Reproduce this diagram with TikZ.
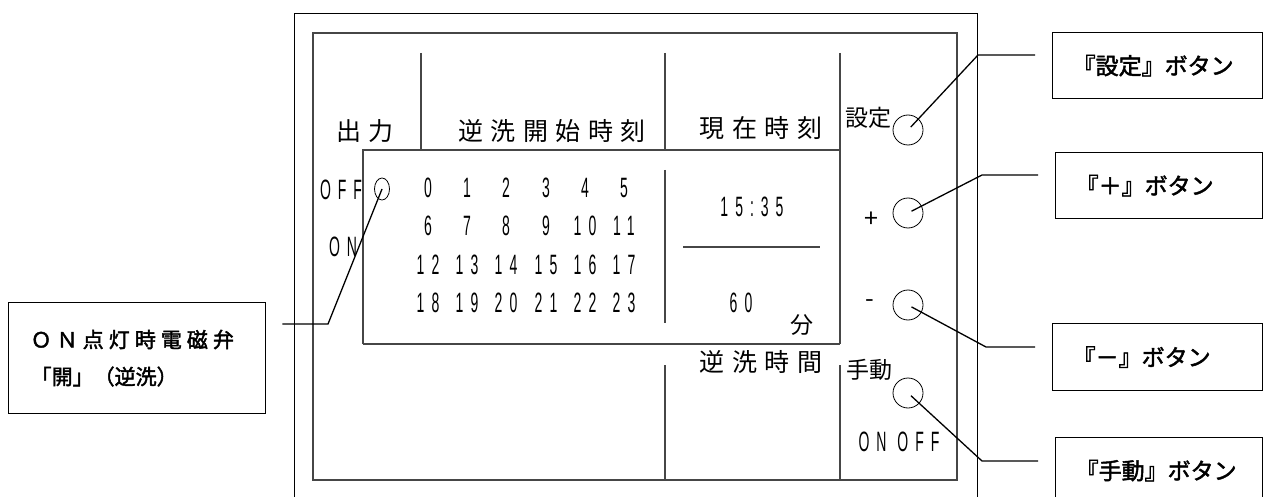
\documentclass[tikz,border=0pt]{standalone}
\usepackage{fontspec}
\usepackage{tikz}
\newfontfamily\jpfont{Noto Sans CJK JP}[AutoFakeBold=2]
\newfontfamily\panelfont{Noto Sans CJK JP}[LetterSpace=30]
\newfontfamily\keyfont{Noto Sans CJK JP}
\newfontfamily\segfont{Liberation Sans}[FakeStretch=0.5, LetterSpace=25]
\definecolor{framegray}{RGB}{70,70,70}
\usetikzlibrary{shapes.geometric, calc}

\begin{document}
\begin{tikzpicture}[
        x=1pt, y=-1pt,
        frame/.style={draw=framegray, line width=1.2pt},
        panel/.style={font=\panelfont\fontsize{25}{25}\selectfont, inner sep=0pt},
        keytext/.style={font=\keyfont\fontsize{23}{23}\selectfont, inner sep=0pt},
        digit/.style={font=\segfont\fontsize{28}{28}\selectfont, inner sep=0pt},
        button/.style={circle, draw, line width=0.8pt, minimum size=30pt, inner sep=0pt},
        label/.style={rectangle, draw, line width=1.3pt, anchor=north west,
                    font=\jpfont\bfseries\fontsize{23}{23}\selectfont,
                    align=left, inner xsep=20pt},
        leader/.style={line width=1.3pt, shorten <=4pt}
    ]
        \useasboundingbox (0,0) rectangle (1263,497);

        % case and panel
        \draw[line width=0.9pt] (294,497) -- (294,13) -- (977,13) -- (977,497);
        \draw[frame] (313,33) rectangle (957,480);
        \draw[frame] (421,53) -- (421,150);
        \draw[frame] (665,53) -- (665,150);
        \draw[frame] (840,53) -- (840,344);
        \draw[frame] (840,365) -- (840,480);
        % display window
        \draw[frame] (363,344) -- (363,150) -- (840,150);
        \draw[frame] (363,344) -- (840,344);
        \draw[frame] (665,170) -- (665,323);
        \draw[frame] (665,365) -- (665,480);
        \draw[frame] (683,247) -- (820,247);

        % headings
        \node[panel] (outhead) at (365,131) {出力};
        \node[panel] (starthead) at (552,131) {逆洗開始時刻};
        \node[panel] (nowhead) at (761,128) {現在時刻};
        \node[panel] (durhead) at (761,362) {逆洗時間};

        % output state
        \node[digit] (offtext) at (341,190) {OFF};
        \node[digit] (ontext) at (343,247) {ON};
        \node[ellipse, draw, line width=0.8pt, minimum width=15pt, minimum height=22pt, inner sep=0pt] (offmark) at (382,189) {};

        % start hours
        \foreach \r/\yy in {0/188,1/226,2/265,3/303} {
            \foreach \c/\xx in {0/428,1/467,2/506,3/546,4/585,5/624} {
                \pgfmathtruncatemacro\hr{6*\r+\c}
                \node[digit] (h\hr) at (\xx,\yy) {\hr};
            }
        }

        % current time and duration
        \node[digit] (clock) at (752,207) {15:35};
        \node[digit] (minutes) at (741,303) {60};
        \node[keytext] (fun) at (802,325) {分};

        % keys
        \node[keytext] (setkey) at (868,118) {設定};
        \node[button] (setbtn) at (908,130) {};
        \node[panel] (pluskey) at (871,220) {+};
        \node[button] (plusbtn) at (908,213) {};
        \node[panel] (minuskey) at (870,304) {-};
        \node[button] (minusbtn) at (908,305) {};
        \node[keytext] (mankey) at (869,370) {手動};
        \node[button] (manbtn) at (908,393) {};
        \node[digit] (onoff) at (899,442) {ON OFF};

        % call-out boxes
        \node[label, minimum height=111pt, text width=213pt, inner xsep=22pt,
              font=\jpfont\bfseries\fontsize{21}{37}\selectfont] (valve) at (8,302)
            {{\addfontfeature{LetterSpace=24}ＯＮ点灯時電磁弁}\\「開」（逆洗）};
        \node[label, minimum height=66pt, text width=170pt] (setlbl) at (1052,32) {『設定』ボタン};
        \node[label, minimum height=66pt, text width=167pt] (pluslbl) at (1055,152) {『＋』ボタン};
        \node[label, minimum height=67pt, text width=170pt] (minuslbl) at (1052,323) {『－』ボタン};
        \node[label, minimum height=66pt, text width=167pt] (manlbl) at (1055,437) {『手動』ボタン};

        % leaders
        \coordinate (valvek) at (328,324);
        \coordinate (setk) at (978,55);
        \coordinate (plusk) at (982,175);
        \coordinate (minusk) at (986,347);
        \coordinate (mank) at (982,461);
        \draw[leader, shorten <=0pt] ([xshift=16pt]valve.east |- valvek) -- (valvek) -- (offmark.center);
        \draw[leader] (setbtn.center) -- (setk) -- ([xshift=-17pt]setlbl.west |- setk);
        \draw[leader] (plusbtn.center) -- (plusk) -- ([xshift=-17pt]pluslbl.west |- plusk);
        \draw[leader] (minusbtn.center) -- (minusk) -- ([xshift=-17pt]minuslbl.west |- minusk);
        \draw[leader] (manbtn.center) -- (mank) -- ([xshift=-17pt]manlbl.west |- mank);
    \end{tikzpicture}
\end{document}
